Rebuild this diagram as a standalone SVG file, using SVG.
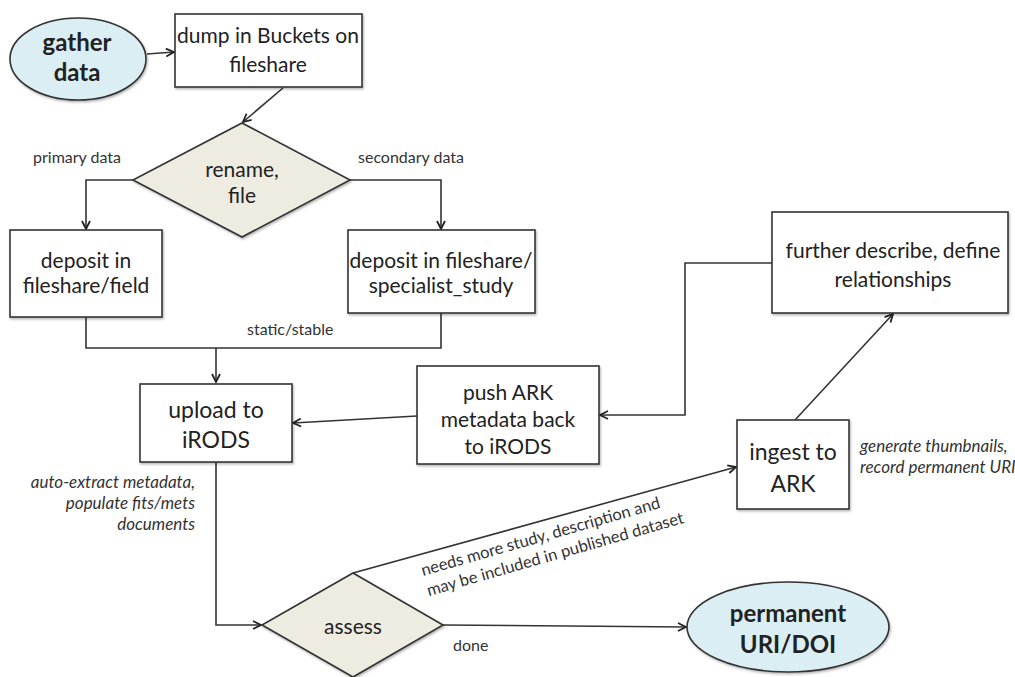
<svg xmlns="http://www.w3.org/2000/svg" width="1015" height="677" viewBox="0 0 1015 677">
<style>
  .box{fill:#ffffff;stroke:#333333;stroke-width:1.6}
  .dia{fill:#eeece1;stroke:#333333;stroke-width:1.6}
  .ell{fill:#dbeef4;stroke:#333333;stroke-width:1.6}
  .t{font-family:Lato,"Liberation Sans",sans-serif;fill:#222222;text-anchor:middle}
  .m{font-size:21px}
  .l{font-size:23px}
  .b{font-size:24px;font-weight:bold}
  .s{font-family:Lato,"Liberation Sans",sans-serif;font-size:16px;fill:#333333}
  .r{font-family:Lato,"Liberation Sans",sans-serif;font-size:16.5px;fill:#333333}
  .i{font-family:Lato,"Liberation Sans",sans-serif;font-size:17px;font-style:italic;fill:#333333}
  .c{fill:none;stroke:#333333;stroke-width:1.6}
</style>
<defs>
  <marker id="arr" viewBox="0 0 10 10" refX="9" refY="5" markerWidth="10" markerHeight="10" markerUnits="userSpaceOnUse" orient="auto">
    <path d="M1,1 L9,5 L1,9" fill="none" stroke="#222222" stroke-width="1.8"/>
  </marker>
  <filter id="sh" x="-5%" y="-5%" width="115%" height="120%">
    <feDropShadow dx="1" dy="1.5" stdDeviation="1" flood-color="#000000" flood-opacity="0.3"/>
  </filter>
</defs>

<g id="connectors">
  <path class="c" d="M147,54 L174,52" marker-end="url(#arr)"/>
  <path class="c" d="M283,88 L243,122" marker-end="url(#arr)"/>
  <path class="c" d="M133,180 L86,180 L86,229" marker-end="url(#arr)"/>
  <path class="c" d="M350,180 L441,180 L441,229" marker-end="url(#arr)"/>
  <path class="c" d="M86,317 L86,348 L441,348 L441,313"/>
  <path class="c" d="M216,348 L216,382" marker-end="url(#arr)"/>
  <path class="c" d="M417,416 L293,423" marker-end="url(#arr)"/>
  <path class="c" d="M772,263 L685,263 L685,415 L600,415" marker-end="url(#arr)"/>
  <path class="c" d="M795,420 L893,314" marker-end="url(#arr)"/>
  <path class="c" d="M216,462 L216,625 L261,625" marker-end="url(#arr)"/>
  <path class="c" d="M353,573 L736,467" marker-end="url(#arr)"/>
  <path class="c" d="M443,625 L686,627" marker-end="url(#arr)"/>
</g>

<g id="gather">
  <ellipse class="ell" cx="78" cy="59" rx="68" ry="41" filter="url(#sh)"/>
  <text class="t b" x="77" y="51">gather</text>
  <text class="t b" x="77" y="81">data</text>
</g>

<g id="dump">
  <rect class="box" x="175" y="14" width="187" height="73" filter="url(#sh)"/>
  <text class="t m" x="268" y="43">dump in Buckets on</text>
  <text class="t m" x="268" y="72">fileshare</text>
</g>

<g id="rename">
  <polygon class="dia" points="242,123 350,180 242,237 133,180" filter="url(#sh)"/>
  <text class="t m" x="242" y="177">rename,</text>
  <text class="t m" x="242" y="203">file</text>
</g>
<text class="s" x="33" y="163">primary data</text>
<text class="s" x="358" y="163">secondary data</text>

<g id="field">
  <rect class="box" x="10" y="230" width="152" height="87" filter="url(#sh)"/>
  <text class="t m" x="86" y="268">deposit in</text>
  <text class="t m" x="86" y="293">fileshare/field</text>
</g>

<g id="specialist">
  <rect class="box" x="348" y="230" width="187" height="83" filter="url(#sh)"/>
  <text class="t m" x="441" y="268">deposit in fileshare/</text>
  <text class="t m" x="441" y="293">specialist_study</text>
</g>
<text class="s" x="247" y="335">static/stable</text>

<g id="upload">
  <rect class="box" x="140" y="384" width="152" height="78" filter="url(#sh)"/>
  <text class="t l" x="216" y="418">upload to</text>
  <text class="t l" x="216" y="448">iRODS</text>
</g>

<g id="push">
  <rect class="box" x="417" y="366" width="182" height="98" filter="url(#sh)"/>
  <text class="t m" x="508" y="400">push ARK</text>
  <text class="t m" x="508" y="427">metadata back</text>
  <text class="t m" x="508" y="454">to iRODS</text>
</g>

<g id="further">
  <rect class="box" x="772" y="212" width="236" height="101" filter="url(#sh)"/>
  <text class="t m" x="893" y="258">further describe, define</text>
  <text class="t m" x="893" y="287">relationships</text>
</g>

<g id="ingest">
  <rect class="box" x="737" y="420" width="112" height="89" filter="url(#sh)"/>
  <text class="t l" x="793" y="460">ingest to</text>
  <text class="t l" x="793" y="492">ARK</text>
</g>
<text class="i" x="860" y="452">generate thumbnails,</text>
<text class="i" x="860" y="473">record permanent URI</text>

<text class="i" text-anchor="end" x="195" y="488">auto-extract metadata,</text>
<text class="i" text-anchor="end" x="195" y="509">populate fits/mets</text>
<text class="i" text-anchor="end" x="195" y="530">documents</text>

<g id="assess">
  <polygon class="dia" points="353,573 443,625 353,677 262,625" filter="url(#sh)"/>
  <text class="t m" x="353" y="634">assess</text>
</g>

<g transform="rotate(-16 423 576)">
  <text class="r" x="423" y="576">needs more study, description and</text>
  <text class="r" x="423" y="597">may be included in published dataset</text>
</g>
<text class="s" x="453" y="651">done</text>

<g id="permanent">
  <ellipse class="ell" cx="788" cy="627" rx="101" ry="45" filter="url(#sh)"/>
  <text class="t b" x="788" y="622">permanent</text>
  <text class="t b" x="788" y="653">URI/DOI</text>
</g>
</svg>
